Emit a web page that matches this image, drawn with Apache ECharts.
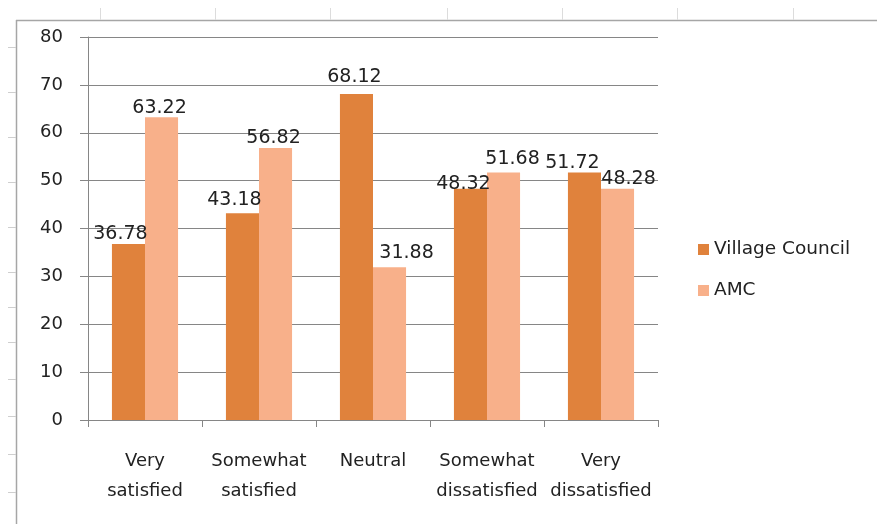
<!DOCTYPE html>
<html>
<head>
<meta charset="utf-8">
<script src="https://cdn.jsdelivr.net/npm/echarts@6/dist/echarts.min.js"></script>
<style>
  html, body { margin: 0; padding: 0; background: #fff; }
  #chart { width: 877px; height: 524px; }
</style>
</head>
<body>
<div id="chart"></div>
<script>
// Satisfaction survey: Village Council vs AMC (percent of respondents)
const categories = ['Very\nsatisfied', 'Somewhat\nsatisfied', 'Neutral', 'Somewhat\ndissatisfied', 'Very\ndissatisfied'];
const villageCouncil = [36.78, 43.18, 68.12, 48.32, 51.72];
const amc = [63.22, 56.82, 31.88, 51.68, 48.28];
const yTicks = [0, 10, 20, 30, 40, 50, 60, 70, 80];

// Hand-placed label nudges [dx, dy] so overlapping value labels stay readable
const vcNudge = [[-8, 0], [-8, -4], [-2, -7], [-7, 5], [-12, 0]];
const amcNudge = [[-2, 0], [-2, 0], [17, -5], [9, -4], [11, 0]];

const FONT = 'DejaVu Sans';
const TEXT = '#222222';

function withLabels(values, nudges) {
  return values.map((v, i) => ({
    value: v,
    label: { offset: nudges[i] }
  }));
}

// Worksheet frame around the chart object
const frame = [];
frame.push({ type: 'line', shape: { x1: 16, y1: 20.5, x2: 877, y2: 20.5 }, style: { stroke: '#a6a6a6', lineWidth: 1.5 }, silent: true });
frame.push({ type: 'line', shape: { x1: 16.5, y1: 20, x2: 16.5, y2: 524 }, style: { stroke: '#a6a6a6', lineWidth: 1.5 }, silent: true });
[100, 215, 330, 447, 562, 677, 793].forEach(x => {
  frame.push({ type: 'line', shape: { x1: x + 0.5, y1: 8, x2: x + 0.5, y2: 20 }, style: { stroke: '#dcdcdc', lineWidth: 1 }, silent: true });
});
[47, 92, 137, 182, 227, 272, 307, 342, 379, 416, 454, 492].forEach(y => {
  frame.push({ type: 'line', shape: { x1: 8, y1: y + 0.5, x2: 16, y2: y + 0.5 }, style: { stroke: '#cfcfcf', lineWidth: 1 }, silent: true });
});

const valueLabel = {
  show: true,
  position: 'top',
  distance: 0,
  fontFamily: FONT,
  fontSize: 19,
  color: TEXT
};

const chart = echarts.init(document.getElementById('chart'), null, { renderer: 'canvas' });
chart.setOption({
  animation: false,
  backgroundColor: '#ffffff',
  textStyle: { fontFamily: FONT },
  graphic: frame,
  grid: { left: 88, right: 219, top: 37, bottom: 104, containLabel: false },
  legend: {
    orient: 'vertical',
    left: 693,
    top: 235,
    itemWidth: 11,
    itemHeight: 11,
    itemGap: 22,
    icon: 'rect',
    textStyle: { fontFamily: FONT, fontSize: 18.5, color: TEXT },
    data: ['Village Council', 'AMC']
  },
  xAxis: {
    type: 'category',
    data: categories,
    axisLine: { show: true, lineStyle: { color: '#868686', width: 1 } },
    axisTick: { show: true, length: 7, alignWithLabel: false, lineStyle: { color: '#868686' } },
    axisLabel: {
      interval: 0,
      margin: 26,
      fontFamily: FONT,
      fontSize: 18,
      lineHeight: 30,
      color: TEXT
    },
    splitLine: { show: false }
  },
  yAxis: {
    type: 'value',
    min: yTicks[0],
    max: yTicks[yTicks.length - 1],
    interval: 10,
    axisLine: { show: true, lineStyle: { color: '#868686', width: 1 } },
    axisTick: { show: true, inside: false, length: 8, lineStyle: { color: '#868686' } },
    axisLabel: {
      margin: 25,
      fontFamily: FONT,
      fontSize: 18,
      color: TEXT
    },
    splitLine: { show: true, lineStyle: { color: '#868686', width: 1 } }
  },
  series: [
    {
      name: 'Village Council',
      type: 'bar',
      data: withLabels(villageCouncil, vcNudge),
      barGap: '0%',
      barCategoryGap: '42%',
      itemStyle: { color: '#e0823c' },
      label: valueLabel
    },
    {
      name: 'AMC',
      type: 'bar',
      data: withLabels(amc, amcNudge),
      barGap: '0%',
      barCategoryGap: '42%',
      itemStyle: { color: '#f8b08a' },
      label: valueLabel
    }
  ]
});
</script>
</body>
</html>
